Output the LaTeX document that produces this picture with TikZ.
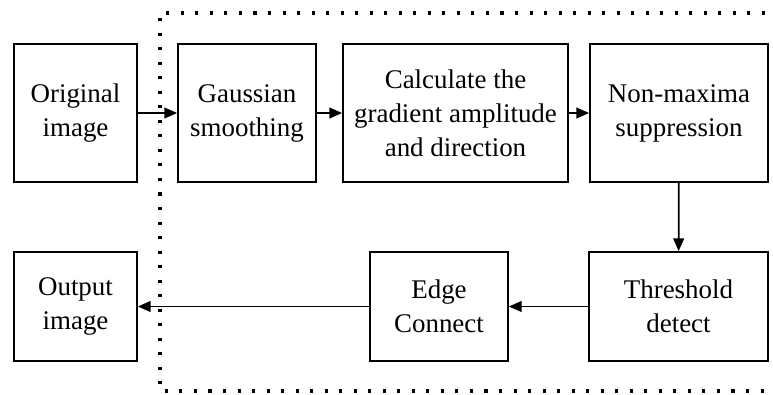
\documentclass[tikz,border=0pt]{standalone}
\usepackage{fontspec}
\setmainfont{Liberation Serif}
\usetikzlibrary{arrows.meta}

\begin{document}
\begin{tikzpicture}[x=0.03cm, y=-0.03cm,
		stage/.style={draw, line width=1.5pt, inner sep=0pt, align=center, font=\fontsize{23}{29}\selectfont},
		flow/.style={-{Triangle[length=3.8mm, width=3.2mm]}, line width=1.5pt}]
		\useasboundingbox (0,0) rectangle (773,395);

		\node[stage, minimum width=3.69cm, minimum height=4.14cm] (original) at (75.5,113) {Original\\image};
		\node[stage, minimum width=4.14cm, minimum height=4.14cm] (gauss) at (247,113) {Gaussian\\smoothing};
		\node[stage, minimum width=6.75cm, minimum height=4.14cm] (gradient) at (455.5,113) {Calculate the\\gradient amplitude\\and direction};
		\node[stage, minimum width=5.34cm, minimum height=4.14cm] (nonmax) at (679,113) {Non-maxima\\suppression};
		\node[stage, minimum width=5.37cm, minimum height=3.27cm] (threshold) at (678.5,306.5) {Threshold\\detect};
		\node[stage, minimum width=4.14cm, minimum height=3.27cm] (edge) at (439,306.5) {Edge\\Connect};
		\node[stage, minimum width=3.69cm, minimum height=3.27cm] (output) at (75.5,306.5) {Output\\image};

		% dotted frame round the detector
		\draw[line width=2.6pt, dash pattern=on 2.6pt off 9.8pt] (765,13) -- (160,13) -- (160,391) -- (765,391);

		\draw[flow] (original) -- (gauss);
		\draw[flow] (gauss) -- (gradient);
		\draw[flow] (gradient) -- (nonmax);
		\draw[flow] (nonmax) -- (threshold);
		\draw[flow] (threshold) -- (edge);
		\draw[flow] (edge) -- (output);

	\end{tikzpicture}
\end{document}
